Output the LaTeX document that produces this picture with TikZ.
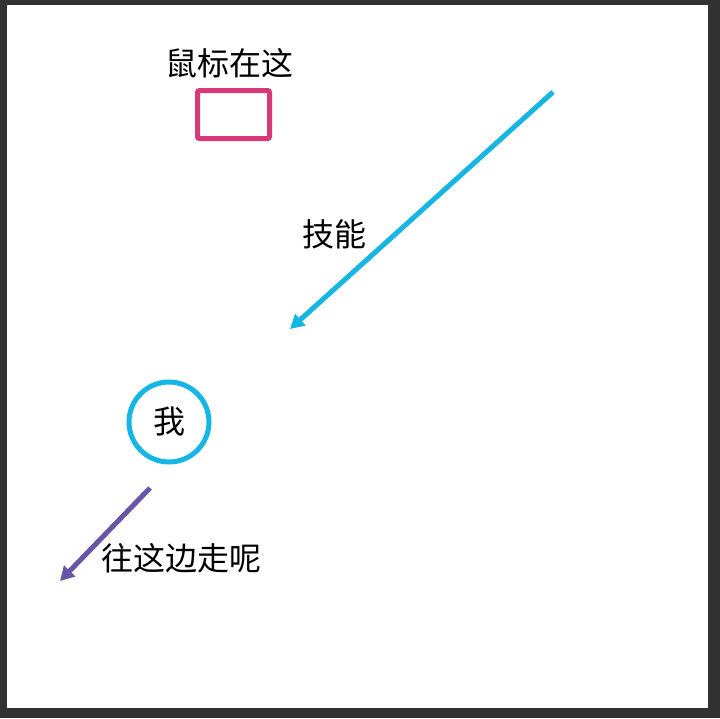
\documentclass[tikz,border=0pt]{standalone}
\usepackage{fontspec}
\setmainfont{Noto Sans CJK SC}
\usetikzlibrary{arrows.meta,positioning}
\definecolor{framegray}{RGB}{50,50,50}
\definecolor{mousepink}{RGB}{214,58,120}
\definecolor{skillcyan}{RGB}{22,182,228}
\definecolor{walkpurple}{RGB}{102,86,166}
\tikzset{
  label text/.style={font=\fontsize{32}{36}\selectfont, inner sep=0pt},
  thick arrow/.style={line width=5pt, -{Triangle[length=14pt,width=15pt]}}
}

\begin{document}
\begin{tikzpicture}[x=1pt,y=-1pt]
  %draw frame
  \fill [framegray] (0,0) rectangle (720,718);
  \fill [white] (7,5) rectangle (708,708);
  %draw mouse box
  \node [draw=mousepink, line width=5pt, rounded corners=2pt,
    minimum width=72pt, minimum height=48pt] (mouse) at (233.5,114.5) {};
  \node [label text] (mouselabel) at (229,63) {鼠标在这};
  %draw skill arrow
  \coordinate (skillstart) at (553,92);
  \coordinate (skillend) at (290,329);
  \draw [thick arrow, skillcyan] (skillstart) -- (skillend);
  \node [label text] (skilllabel) at (334,234) {技能};
  %draw me
  \node [draw=skillcyan, line width=5pt, circle, minimum size=80pt,
    label text] (me) at (169,422) {我};
  %draw walk arrow
  \coordinate (walkstart) at (150,488);
  \coordinate (walkend) at (60,581);
  \draw [thick arrow, walkpurple] (walkstart) -- (walkend);
  \node [label text] (walklabel) at (181,558) {往这边走呢};
\end{tikzpicture}
\end{document}
